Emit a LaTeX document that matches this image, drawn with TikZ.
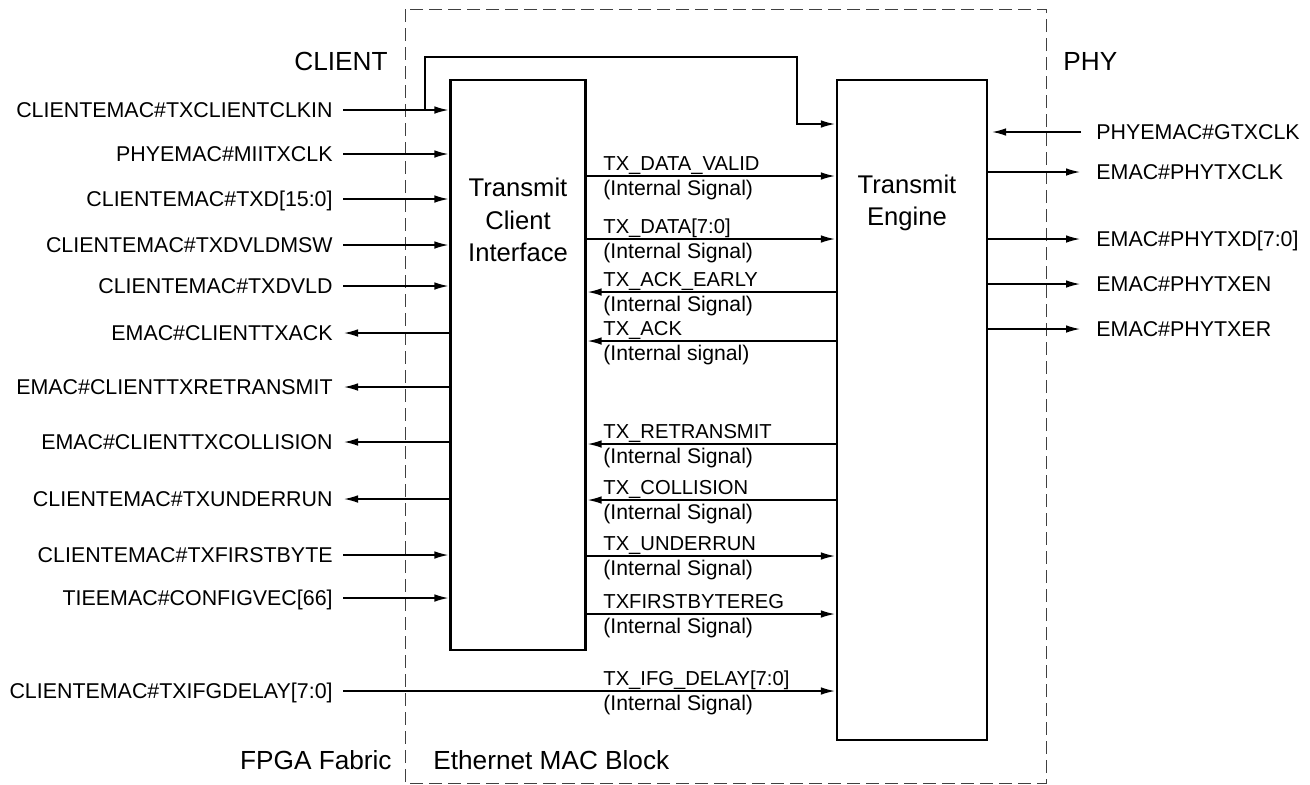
\documentclass[tikz,border=0pt]{standalone}
\usepackage{fontspec}
\setmainfont{Liberation Sans}
\usetikzlibrary{arrows.meta,positioning}
\tikzset{
  sig/.style={line width=0.7pt,shorten >=0.5pt},
  blk/.style={draw,line width=1.1pt,inner sep=0pt},
  blktxt/.style={font=\fontsize{12.8}{16.3}\selectfont,align=center,inner sep=0pt},
  hdr/.style={font=\fontsize{13.1}{15}\selectfont,inner sep=0pt},
  pinlbl/.style={font=\fontsize{10.7}{12}\selectfont,text height=7.6pt,text depth=0pt,inner ysep=0pt},
  pinl/.style={pinlbl,anchor=east,inner xsep=5pt},
  pinr/.style={pinlbl,anchor=west,inner xsep=7.5pt},
  intl/.style={font=\fontsize{10.1}{12}\selectfont,inner sep=0pt,anchor=base west},
  ints/.style={font=\fontsize{10.6}{12}\selectfont,inner sep=0pt,anchor=base west},
  macbnd/.style={draw=black!75,line width=0.5pt,dash pattern=on 6.5pt off 3pt}
}
\begin{document}
\begin{tikzpicture}[x=0.5pt,y=-0.5pt,>={Latex[length=7pt,width=3.8pt]}]
\useasboundingbox (0,0) rectangle (1310,784);
% Ethernet MAC block boundary
\draw[macbnd] (405,9) rectangle (1046,783);
% the two blocks
\node[blk,minimum width=67.5pt,minimum height=285pt] (tci) at (518,365) {};
\node[blk,minimum width=75pt,minimum height=330pt] (te) at (912,410) {};
\node[blktxt] (tcitxt) at (518,220) {Transmit\\Client\\Interface};
\node[blktxt] (tetxt) at (907,203) {Transmit\\Engine};
% region headings
\node[hdr,anchor=base east] (hclient) at (388,70) {CLIENT};
\node[hdr,anchor=base west] (hphy) at (1063,70) {PHY};
\node[hdr,anchor=base east] (hfab) at (392,769) {FPGA Fabric};
\node[hdr,anchor=base west] (hmac) at (433,769) {Ethernet MAC Block};
% client side
\foreach \y/\txt [count=\i] in {110/CLIENTEMAC\#TXCLIENTCLKIN,154/PHYEMAC\#MIITXCLK,
    199/CLIENTEMAC\#TXD[15:0],245/CLIENTEMAC\#TXDVLDMSW,286/CLIENTEMAC\#TXDVLD,
    555/CLIENTEMAC\#TXFIRSTBYTE,598/TIEEMAC\#CONFIGVEC[66]}{
  \node[pinl] (lin\i) at (343,\y) {\txt};
  \draw[sig,->] (lin\i.east) -- (lin\i.east -| tci.west);
}
\foreach \y/\txt [count=\i] in {333/EMAC\#CLIENTTXACK,387/EMAC\#CLIENTTXRETRANSMIT,
    442/EMAC\#CLIENTTXCOLLISION,499/CLIENTEMAC\#TXUNDERRUN}{
  \node[pinl] (lout\i) at (343,\y) {\txt};
  \draw[sig,->] (lout\i.east -| tci.west) -- (lout\i.east);
}
\node[pinl] (lifg) at (343,691) {CLIENTEMAC\#TXIFGDELAY[7:0]};
\draw[sig,->] (lifg.east) -- (lifg.east -| te.west);
% clock branch to the engine
\coordinate (clkbr) at (425,110);
\coordinate (clkdn) at (797,57);
\draw[sig,->] (clkbr) |- (clkdn) |- (te.west |- 0,124);
% PHY side
\node[pinr] (rin) at (1081,132) {PHYEMAC\#GTXCLK};
\draw[sig,->,shorten >=2pt] (rin.west) -- (rin.west -| te.east);
\foreach \y/\txt [count=\i] in {172/EMAC\#PHYTXCLK,239/EMAC\#PHYTXD[7:0],
    284/EMAC\#PHYTXEN,329/EMAC\#PHYTXER}{
  \node[pinr] (rout\i) at (1081,\y) {\txt};
  \draw[sig,->] (rout\i.west -| te.east) -- (rout\i.west);
}
% internal signals
\foreach \y/\nm [count=\i] in {176/TX\_DATA\_VALID,239/TX\_DATA[7:0],
    556/TX\_UNDERRUN,614/TXFIRSTBYTEREG}{
  \coordinate (ia\i) at (tci.east |- 0,\y);
  \draw[sig,->] (ia\i) -- (ia\i -| te.west);
  \node[intl] (ian\i) at (603,\y-6) {\nm};
  \node[ints] (ias\i) at (603,\y+19) {(Internal Signal)};
}
\foreach \y/\nm/\w [count=\i] in {292/TX\_ACK\_EARLY/Signal,341/TX\_ACK/signal,
    444/TX\_RETRANSMIT/Signal,500/TX\_COLLISION/Signal}{
  \coordinate (ib\i) at (te.west |- 0,\y);
  \draw[sig,->] (ib\i) -- (ib\i -| tci.east);
  \node[intl] (ibn\i) at (603,\y-6) {\nm};
  \node[ints] (ibs\i) at (603,\y+19) {(Internal \w)};
}
\node[intl] (ifgn) at (603,685) {TX\_IFG\_DELAY[7:0]};
\node[ints] (ifgs) at (603,710) {(Internal Signal)};
\end{tikzpicture}
\end{document}
